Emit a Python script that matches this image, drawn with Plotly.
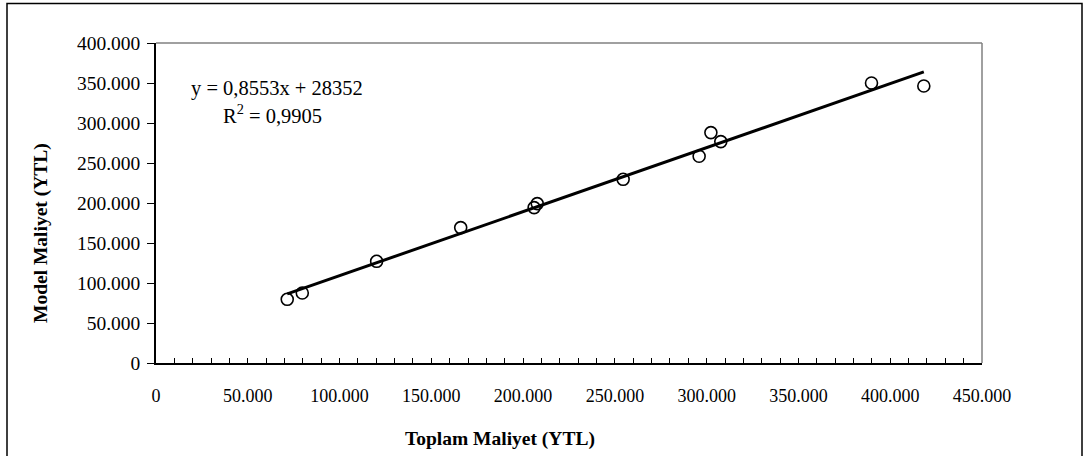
import numpy as np
import plotly.graph_objects as go

# Data
toplam_maliyet = [71500, 79700, 120200, 166000, 206000, 207700, 254500, 295900, 302300, 307700, 389800, 418300]
model_maliyet = [79600, 87500, 127100, 169250, 194250, 199250, 229600, 258400, 288000, 276750, 350000, 346250]

equation_text = "y = 0,8553x + 28352"
r2_text = "R<sup>2</sup> = 0,9905"
x_title = "Toplam Maliyet (YTL)"
y_title = "Model Maliyet (YTL)"

FONT = "Liberation Serif, Times New Roman, serif"

# linear trend line computed from data
slope, intercept = np.polyfit(toplam_maliyet, model_maliyet, 1)
x_line = [min(toplam_maliyet), max(toplam_maliyet)]
y_line = [slope * v + intercept for v in x_line]

fig = go.Figure()
fig.add_trace(go.Scatter(
    x=x_line, y=y_line, mode="lines",
    line=dict(color="black", width=3), showlegend=False, hoverinfo="skip"))
fig.add_trace(go.Scatter(
    x=toplam_maliyet, y=model_maliyet, mode="markers",
    marker=dict(symbol="circle-open", size=12, color="black", line=dict(width=1.6)),
    showlegend=False))

W, H = 1084, 456
L, R, T, B = 156, 102, 43, 93

fig.update_layout(
    width=W, height=H,
    margin=dict(l=L, r=R, t=T, b=B),
    paper_bgcolor="white", plot_bgcolor="white",
    separators=",.",
    font=dict(family=FONT, size=18, color="black"),
    xaxis=dict(
        range=[0, 450000], dtick=50000, tick0=0,
        tickformat=",.0f",
        showgrid=False, zeroline=False,
        showline=True, linecolor="black", linewidth=1.5,
        ticks="inside", ticklen=5, tickwidth=1, tickcolor="black",
        minor=dict(dtick=10000, ticks="inside", ticklen=5, tickwidth=1, tickcolor="black"),
        ticklabelstandoff=16,
        tickfont=dict(family=FONT, size=18),
    ),
    yaxis=dict(
        range=[0, 400000], dtick=50000, tick0=0,
        tickformat=",.0f",
        showgrid=False, zeroline=False,
        showline=True, linecolor="black", linewidth=1.5,
        ticks="outside", ticklen=7, tickwidth=1, tickcolor="black",
        ticklabelstandoff=3,
        tickfont=dict(family=FONT, size=19.5),
    ),
)

pw, ph = W - L - R, H - T - B

def px(xp):
    return (xp - L) / pw

def py(yp):
    return (H - B - yp) / ph

# plot area top/right gray border
fig.add_shape(type="line", xref="paper", yref="paper", x0=0, x1=1, y0=1, y1=1,
              line=dict(color="#808080", width=1.5))
fig.add_shape(type="line", xref="paper", yref="paper", x0=1, x1=1, y0=0, y1=1,
              line=dict(color="#808080", width=1.5))
# outer chart frame
fig.add_shape(type="rect", xref="paper", yref="paper",
              x0=px(7), x1=px(1082), y0=py(3.5), y1=py(470),
              line=dict(color="black", width=1.5), layer="below")

fig.add_annotation(text=equation_text, xref="paper", yref="paper",
                   x=px(277), y=py(88), xanchor="center", yanchor="middle",
                   showarrow=False, font=dict(family=FONT, size=20.5))
fig.add_annotation(text=r2_text, xref="paper", yref="paper",
                   x=px(272), y=py(114), xanchor="center", yanchor="middle",
                   showarrow=False, font=dict(family=FONT, size=20.5))
fig.add_annotation(text="<b>" + x_title + "</b>", xref="paper", yref="paper",
                   x=px(500), y=py(439), xanchor="center", yanchor="middle",
                   showarrow=False, font=dict(family=FONT, size=19.5))
fig.add_annotation(text="<b>" + y_title + "</b>", xref="paper", yref="paper",
                   x=px(41), y=py(233), xanchor="center", yanchor="middle",
                   textangle=-90, showarrow=False, font=dict(family=FONT, size=19.5))

fig.write_html("out.html", config={"displayModeBar": False},
               post_script="document.body.style.margin='0px';")
